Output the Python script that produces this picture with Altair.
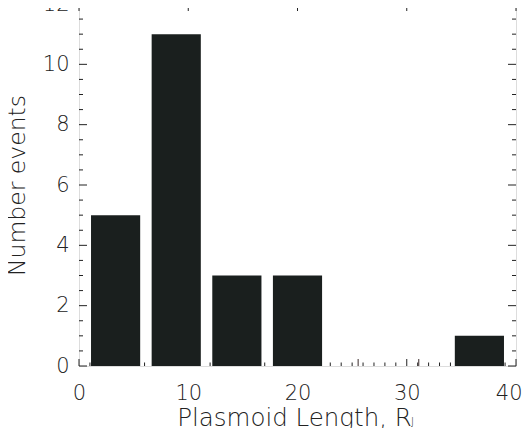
import altair as alt
import pandas as pd

# data
bin_centers = [3.35, 8.9, 14.45, 20.0, 25.55, 31.1, 36.65]
counts = [5, 11, 3, 3, 0, 0, 1]
bar_width = 4.5

x_major = [0, 10, 20, 30, 40]
x_minor = [v for v in range(1, 40) if v % 10 != 0]
y_major = [0, 2, 4, 6, 8, 10, 12]
y_minor = [v / 2 for v in range(1, 24) if v % 4 != 0]

W, H = 437, 362
FONT = "DejaVu Sans"
TXT = "#222222"
INK = "#222222"

bars_df = pd.DataFrame({"center": bin_centers, "count": counts})

xscale = alt.Scale(domain=[0, 40], nice=False, zero=False)
yscale = alt.Scale(domain=[0, 12], nice=False, zero=False)

xaxis = alt.Axis(values=x_major, format="d", ticks=False, tickSize=0, domain=False, grid=False,
                 labelFont=FONT, labelFontSize=21, labelFontWeight=200, labelColor=TXT,
                 labelPadding=16, labelFlush=False,
                 labelAlign=alt.ConditionalAxisLabelAlign(
                     condition={"test": "datum.value == 40", "value": "right"}, value="center"),
                 labelOffset=alt.ConditionalAxisNumber(
                     condition={"test": "datum.value == 40", "value": 6}, value=0),
                 title="Plasmoid Length, R", titleFont=FONT, titleFontSize=24.5,
                 titleFontWeight=200, titleColor=TXT, titleBaseline="alphabetic",
                 titleY=59, titleX=215)
yaxis = alt.Axis(values=y_major, format="d", ticks=False, tickSize=0, domain=False, grid=False,
                 labelFont=FONT, labelFontSize=21, labelFontWeight=200, labelColor=TXT,
                 labelPadding=10, title="Number events", titleFont=FONT, titleFontSize=23.5,
                 titleFontWeight=200, titleColor=TXT, titlePadding=13)


def xticks(values, length, color=INK):
    df = pd.DataFrame({"v": values})
    bottom = alt.Chart(df).mark_rule(color=color, strokeWidth=1).encode(
        x=alt.X("v:Q", scale=xscale, axis=xaxis), y=alt.value(H), y2=alt.value(H - length))
    top = alt.Chart(df).mark_rule(color=color, strokeWidth=1).encode(
        x=alt.X("v:Q", scale=xscale, axis=xaxis), y=alt.value(0), y2=alt.value(length))
    return bottom, top


def yticks(values, length):
    df = pd.DataFrame({"v": values})
    left = alt.Chart(df).mark_rule(color=INK, strokeWidth=1).encode(
        y=alt.Y("v:Q", scale=yscale, axis=yaxis), x=alt.value(0), x2=alt.value(length))
    right = alt.Chart(df).mark_rule(color=INK, strokeWidth=1).encode(
        y=alt.Y("v:Q", scale=yscale, axis=yaxis), x=alt.value(W), x2=alt.value(W - length))
    return left, right


xmaj_b, xmaj_t = xticks(x_major, 7)
xmin_b, xmin_t = xticks(x_minor, 3.5)
ymaj_l, ymaj_r = yticks(y_major, 8)
ymin_l, ymin_r = yticks(y_minor, 4)
center_ticks = alt.Chart(pd.DataFrame({"v": bin_centers})).mark_rule(color="#3a2a2a", strokeWidth=1).encode(
    x=alt.X("v:Q", scale=xscale, axis=xaxis), y=alt.value(H), y2=alt.value(H - 7))

bars = alt.Chart(bars_df).transform_calculate(
    x0=f"datum.center - {bar_width / 2}", x1=f"datum.center + {bar_width / 2}"
).mark_bar(color="#1a1f1e").encode(
    x=alt.X("x0:Q", scale=xscale, axis=xaxis),
    x2="x1:Q",
    y=alt.Y("count:Q", scale=yscale, axis=yaxis),
    y2=alt.datum(0),
)

sub = alt.Chart(pd.DataFrame({"t": ["J"]})).mark_text(
    font=FONT, fontSize=10, fontWeight=200, color=TXT, align="left", baseline="alphabetic"
).encode(text="t:N", x=alt.value(332), y=alt.value(421))

chart = alt.layer(
    xmin_b, xmin_t, xmaj_b, xmaj_t, ymin_l, ymin_r, ymaj_l, ymaj_r, center_ticks, bars, sub
).properties(
    width=W, height=H,
    padding={"left": 71, "top": -4, "right": 6, "bottom": 62},
    autosize=alt.AutoSizeParams(type="none"),
).configure_view(stroke="#111111", strokeWidth=1.5).configure(background="white")

chart.save("out.html", embed_options={"renderer": "svg", "actions": False})
